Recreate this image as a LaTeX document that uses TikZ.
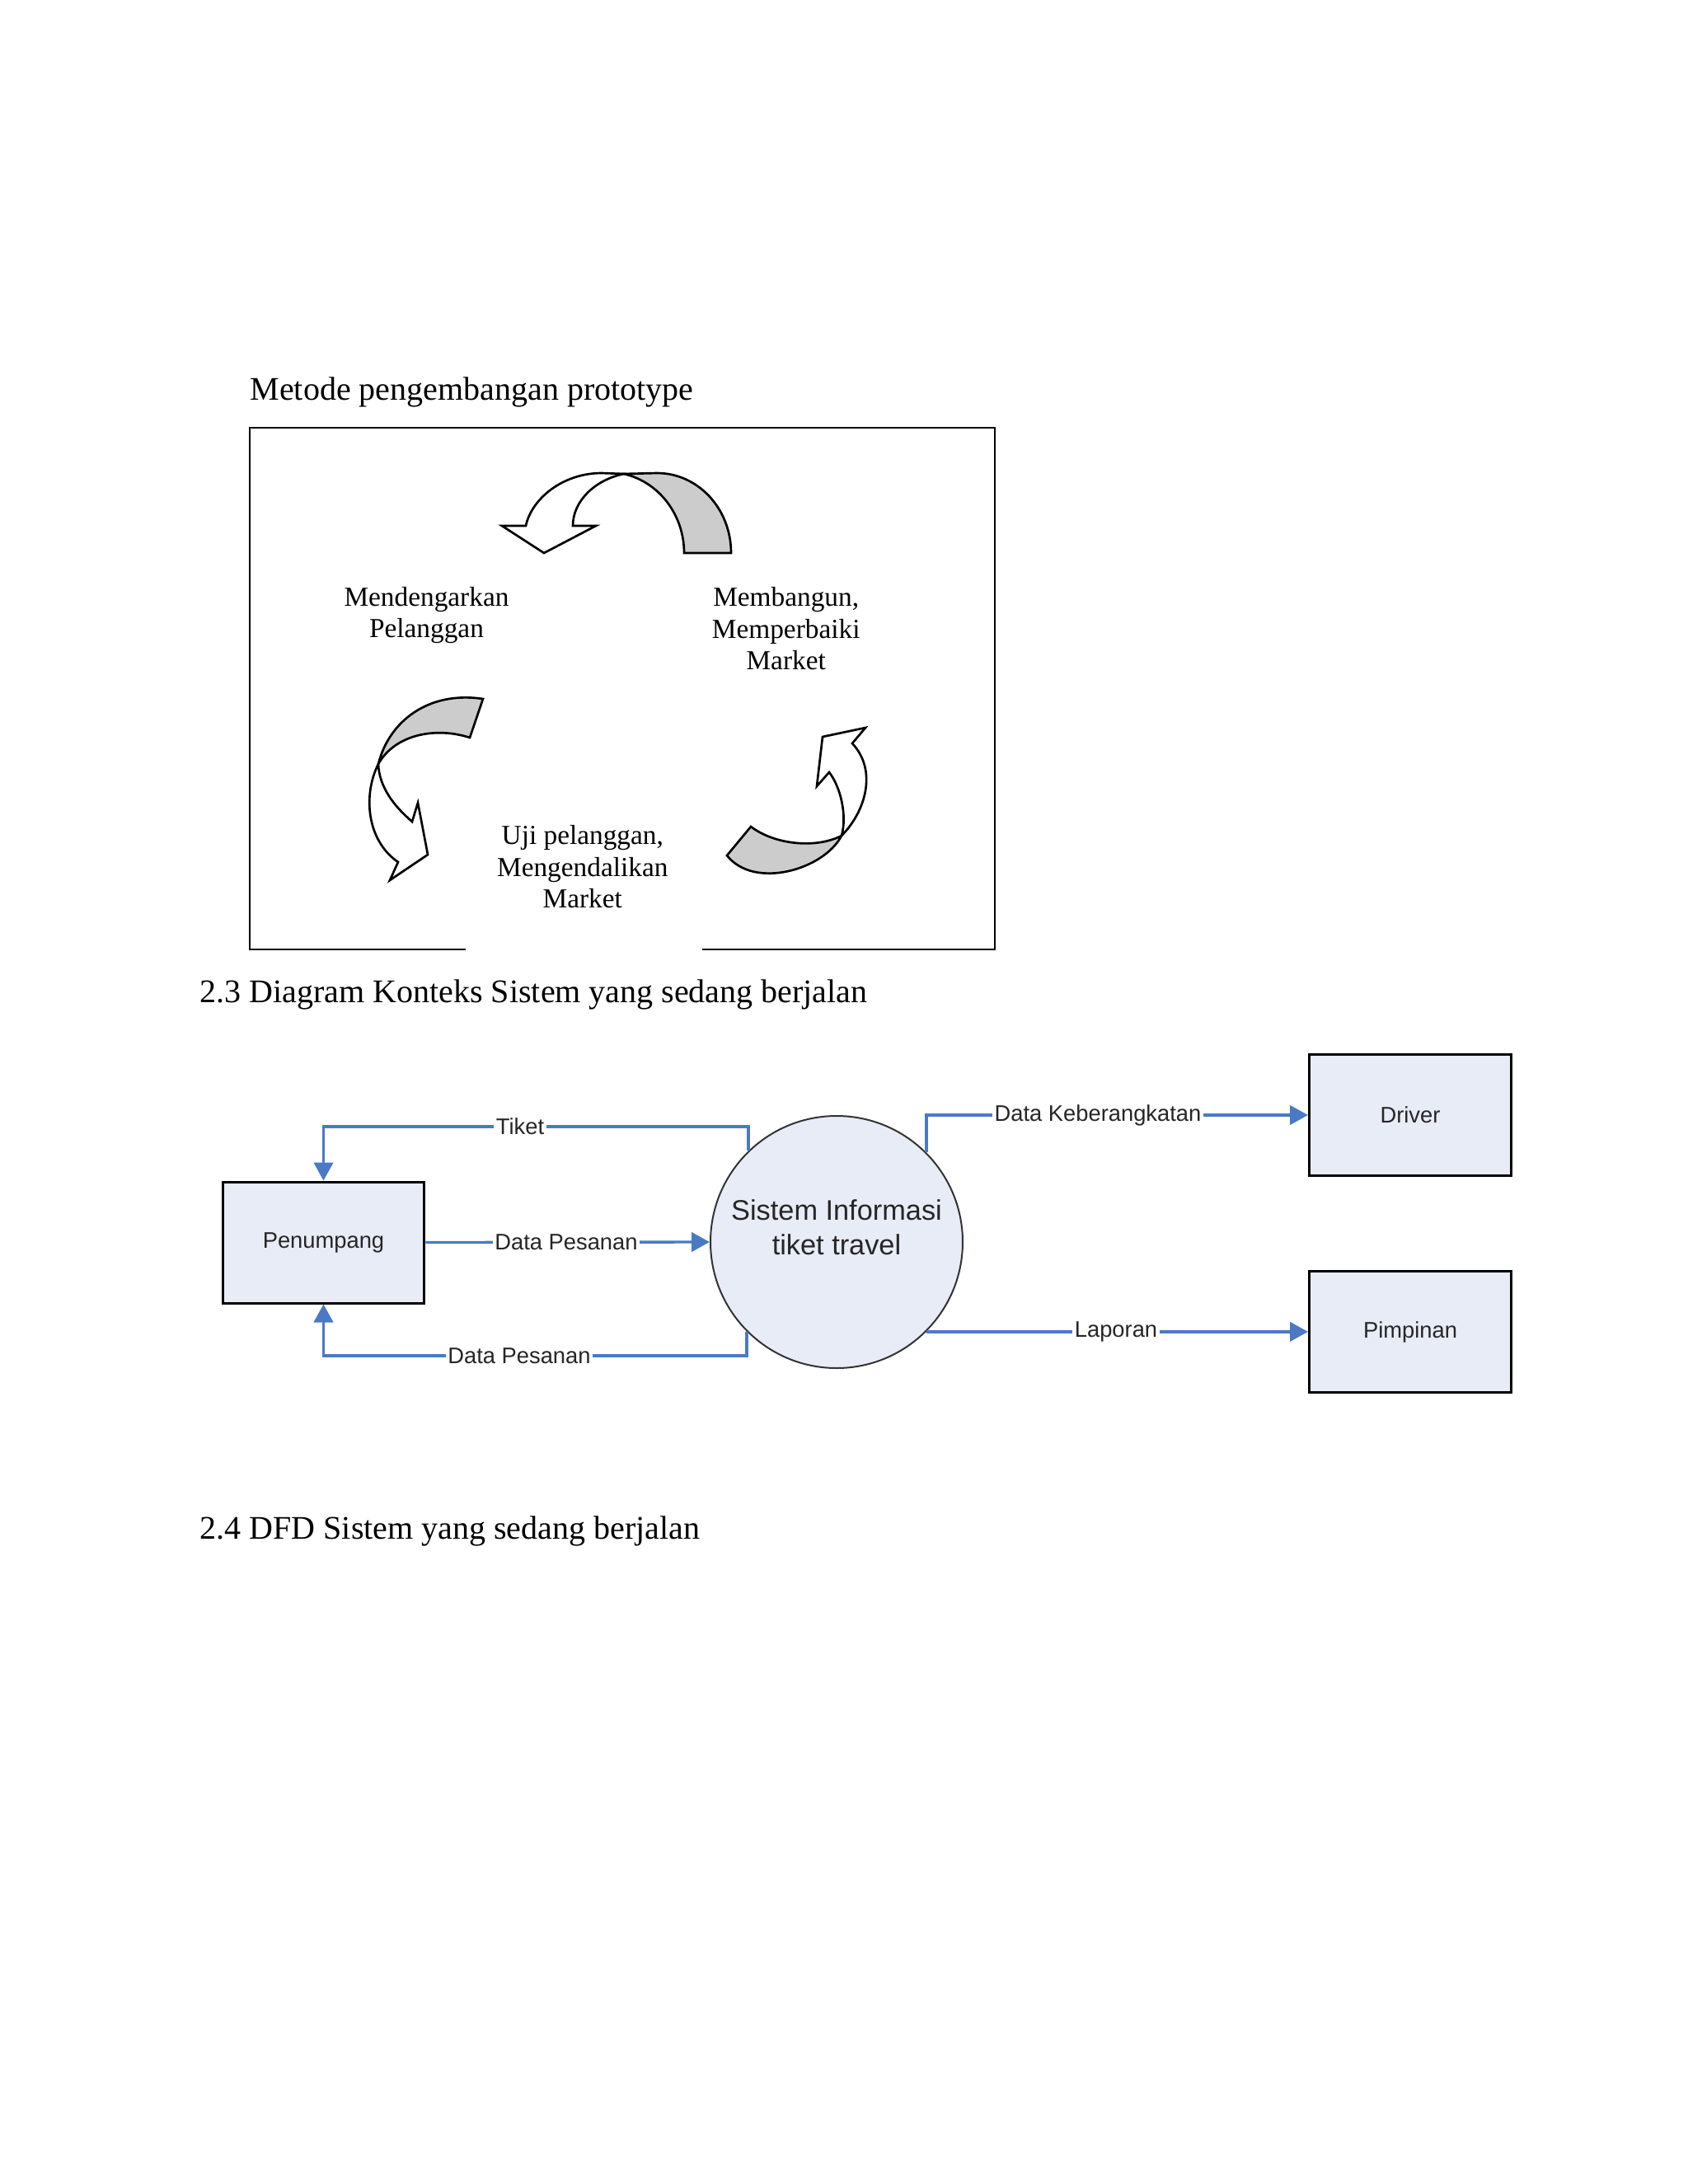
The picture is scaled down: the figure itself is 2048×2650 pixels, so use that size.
\documentclass[tikz,border=0pt]{standalone}
\usepackage{fontspec}
\setmainfont{Liberation Serif}
\newfontfamily\arialf{Liberation Sans}
\usetikzlibrary{arrows.meta}
\definecolor{flowblue}{HTML}{4A7AC4}
\definecolor{entfill}{HTML}{E8ECF7}
\definecolor{ribbongray}{HTML}{CCCCCC}
\begin{document}
\begin{tikzpicture}[x=0.010542cm,y=-0.010542cm,
  ent/.style={draw=black, line width=0.9pt, fill=entfill, minimum width=2.583cm, minimum height=1.55cm, inner sep=0pt, font=\arialf\fontsize{8.2}{10}\selectfont, text=black!85},
  proc/.style={circle, draw=black!80, line width=0.6pt, fill=entfill, minimum size=3.226cm, inner sep=0pt},
  flow/.style={draw=flowblue, line width=1pt, -{Triangle[length=6.6pt,width=7pt]}},
  lbl/.style={fill=white, inner sep=0.8pt, font=\arialf\fontsize{8.2}{10}\selectfont, text=black!85},
  ribbon/.style={draw=black, line width=0.8pt, line join=miter},
  proto/.style={font=\fontsize{10}{11.6}\selectfont, align=center, inner sep=0pt},
  head/.style={font=\fontsize{12}{14}\selectfont, anchor=base west, inner sep=0pt}]
\useasboundingbox[fill=white] (0,0) rectangle (2048,2650);

% headings
\node[head] (h1) at (303,485) {Metode pengembangan prototype};
\node[head] (h2) at (242,1216.5) {2.3 Diagram Konteks Sistem yang sedang berjalan};
\node[head] (h3) at (242,1867) {2.4 DFD Sistem yang sedang berjalan};

% prototype frame
\draw[line width=0.8pt] (565,1152) -- (303,1152) -- (303,519) -- (1207,519) -- (1207,1152) -- (852,1152);

% top ribbon arrow
\draw[ribbon, fill=ribbongray] (757,575) -- (797,574) .. controls (846.7,574) and (887,617) .. (887,671) -- (830,671) .. controls (830,625) and (800,585) .. (757,575) -- cycle;
\draw[ribbon, fill=white] (730,574) -- (757,575) .. controls (722,582) and (695,608) .. (695,638) -- (723,638) -- (660,671) -- (609,638) -- (638,638) .. controls (645,605) and (683,574) .. (730,574) -- cycle;

% bottom-left ribbon arrow
\draw[ribbon, fill=ribbongray] (586,848) -- (570,895) .. controls (530,882) and (480,890) .. (459,927) .. controls (472,875) and (520,838) .. (586,848) -- cycle;
\draw[ribbon, fill=white] (459,927) .. controls (440,965) and (445,1020) .. (483,1046) -- (473,1068) -- (519,1037) -- (507,974) -- (500,997) .. controls (478,978) and (460,955) .. (459,927) -- cycle;

% bottom-right ribbon arrow
\draw[ribbon, fill=ribbongray] (882,1038) -- (911,1003) .. controls (940,1025) and (990,1030) .. (1021,1014) .. controls (1000,1055) and (915,1080) .. (882,1038) -- cycle;
\draw[ribbon, fill=white] (1021,1014) .. controls (1050,985) and (1065,935) .. (1034,902) -- (1050,883) -- (998,894) -- (991,954) -- (1006,937) .. controls (1020,955) and (1028,990) .. (1021,1014) -- cycle;

% prototype labels
\node[proto] (p1) at (517.5,746.5) {Mendengarkan\\Pelanggan};
\node[proto] (p2) at (953.7,762.6) {Membangun,\\Memperbaiki\\Market};
\node[proto] (p3) at (706.8,1051.8) {Uji pelanggan,\\Mengendalikan\\Market};

% context diagram
\node[ent] (pen) at (392.5,1507.5) {Penumpang};
\node[ent] (drv) at (1711,1353) {Driver};
\node[ent] (pim) at (1711,1616) {Pimpinan};
\node[proc] (sis) at (1015,1507) {};
\node[font=\arialf\fontsize{10.3}{12.6}\selectfont, align=center, text=black!85] (sistxt) at (1015,1489) {Sistem Informasi\\tiket travel};

\coordinate (tk) at (392.5,1367);
\coordinate (dp) at (392.5,1645);
\draw[flow] (sis.134.4) |- (tk) -- (pen.north);
\draw[flow] (sis.225.6) |- (dp) -- (pen.south);
\draw[flow] (pen.east) -- (sis.west);
\draw[flow] (sis.45.3) |- (drv.west);
\draw[flow] (sis.-45.4) -- (pim.west |- sis.-45.4);

\node[lbl] (l1) at (631,1367) {Tiket};
\node[lbl] (l2) at (687,1507.5) {Data Pesanan};
\node[lbl] (l3) at (630,1645) {Data Pesanan};
\node[lbl] (l4) at (1332,1353) {Data Keberangkatan};
\node[lbl] (l5) at (1354,1616) {Laporan};
\end{tikzpicture}
\end{document}
